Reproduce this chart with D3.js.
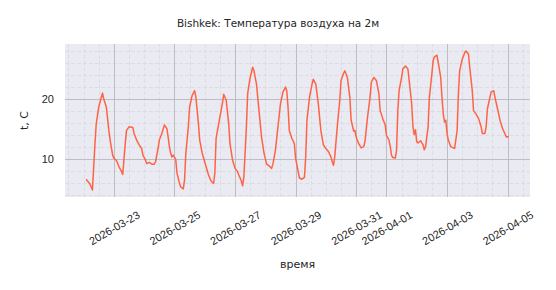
<!DOCTYPE html>
<html>
<head>
<meta charset="utf-8">
<script src="https://cdn.jsdelivr.net/npm/d3@7"></script>
<style>
  body { margin: 0; background: #fff; }
  svg { display: block; font-family: "DejaVu Sans", sans-serif; }
  .grid line { shape-rendering: crispEdges; }
</style>
</head>
<body>
<script>
/*
 * Hourly-ish air temperature at 2 m for Bishkek,
 * read off the reference picture.
 */

const times = [
  "2026-03-22 02:00", "2026-03-22 05:00", "2026-03-22 07:00", "2026-03-22 09:00", "2026-03-22 10:00", "2026-03-22 12:00", "2026-03-22 14:00", "2026-03-22 15:00", "2026-03-22 16:00", "2026-03-22 18:00", "2026-03-22 20:00", "2026-03-22 21:00", "2026-03-22 23:00",
  "2026-03-23 00:00", "2026-03-23 02:00", "2026-03-23 04:00", "2026-03-23 06:00", "2026-03-23 07:00", "2026-03-23 09:00", "2026-03-23 10:00", "2026-03-23 12:00", "2026-03-23 15:00", "2026-03-23 16:00", "2026-03-23 18:00", "2026-03-23 20:00", "2026-03-23 22:00", "2026-03-23 23:00",
  "2026-03-24 01:00", "2026-03-24 02:00", "2026-03-24 04:00", "2026-03-24 06:00", "2026-03-24 08:00", "2026-03-24 09:00", "2026-03-24 11:00", "2026-03-24 12:00", "2026-03-24 14:00", "2026-03-24 16:00", "2026-03-24 18:00", "2026-03-24 19:00", "2026-03-24 20:00", "2026-03-24 21:00", "2026-03-24 22:00", "2026-03-24 23:00",
  "2026-03-25 01:00", "2026-03-25 02:00", "2026-03-25 04:00", "2026-03-25 05:00", "2026-03-25 07:00", "2026-03-25 08:00", "2026-03-25 09:00", "2026-03-25 11:00", "2026-03-25 12:00", "2026-03-25 14:00", "2026-03-25 16:00", "2026-03-25 17:00", "2026-03-25 19:00", "2026-03-25 20:00", "2026-03-25 22:00",
  "2026-03-26 01:00", "2026-03-26 03:00", "2026-03-26 05:00", "2026-03-26 07:00", "2026-03-26 08:00", "2026-03-26 09:00", "2026-03-26 12:00", "2026-03-26 14:00", "2026-03-26 15:00", "2026-03-26 17:00", "2026-03-26 19:00", "2026-03-26 20:00", "2026-03-26 22:00",
  "2026-03-27 00:00", "2026-03-27 02:00", "2026-03-27 03:00", "2026-03-27 05:00", "2026-03-27 06:00", "2026-03-27 07:00", "2026-03-27 09:00", "2026-03-27 10:00", "2026-03-27 12:00", "2026-03-27 14:00", "2026-03-27 15:00", "2026-03-27 17:00", "2026-03-27 19:00", "2026-03-27 21:00", "2026-03-27 23:00",
  "2026-03-28 01:00", "2026-03-28 03:00", "2026-03-28 05:00", "2026-03-28 06:00", "2026-03-28 08:00", "2026-03-28 10:00", "2026-03-28 12:00", "2026-03-28 14:00", "2026-03-28 16:00", "2026-03-28 17:00", "2026-03-28 18:00", "2026-03-28 19:00", "2026-03-28 21:00", "2026-03-28 23:00",
  "2026-03-29 00:00", "2026-03-29 02:00", "2026-03-29 03:00", "2026-03-29 05:00", "2026-03-29 07:00", "2026-03-29 08:00", "2026-03-29 09:00", "2026-03-29 11:00", "2026-03-29 13:00", "2026-03-29 14:00", "2026-03-29 16:00", "2026-03-29 18:00", "2026-03-29 20:00", "2026-03-29 22:00",
  "2026-03-30 00:00", "2026-03-30 02:00", "2026-03-30 04:00", "2026-03-30 05:00", "2026-03-30 06:00", "2026-03-30 07:00", "2026-03-30 09:00", "2026-03-30 11:00", "2026-03-30 12:00", "2026-03-30 14:00", "2026-03-30 15:00", "2026-03-30 17:00", "2026-03-30 19:00", "2026-03-30 20:00", "2026-03-30 22:00", "2026-03-30 23:00",
  "2026-03-31 00:00", "2026-03-31 02:00", "2026-03-31 04:00", "2026-03-31 06:00", "2026-03-31 07:00", "2026-03-31 09:00", "2026-03-31 11:00", "2026-03-31 12:00", "2026-03-31 14:00", "2026-03-31 16:00", "2026-03-31 18:00", "2026-03-31 19:00", "2026-03-31 21:00", "2026-03-31 23:00",
  "2026-04-01 00:00", "2026-04-01 02:00", "2026-04-01 03:00", "2026-04-01 04:00", "2026-04-01 05:00", "2026-04-01 07:00", "2026-04-01 08:00", "2026-04-01 09:00", "2026-04-01 10:00", "2026-04-01 12:00", "2026-04-01 13:00", "2026-04-01 15:00", "2026-04-01 17:00", "2026-04-01 18:00", "2026-04-01 20:00", "2026-04-01 21:00", "2026-04-01 22:00", "2026-04-01 23:00",
  "2026-04-02 00:00", "2026-04-02 01:00", "2026-04-02 03:00", "2026-04-02 05:00", "2026-04-02 06:00", "2026-04-02 07:00", "2026-04-02 09:00", "2026-04-02 10:00", "2026-04-02 12:00", "2026-04-02 13:00", "2026-04-02 14:00", "2026-04-02 16:00", "2026-04-02 17:00", "2026-04-02 19:00", "2026-04-02 20:00", "2026-04-02 21:00", "2026-04-02 22:00", "2026-04-02 23:00",
  "2026-04-03 00:00", "2026-04-03 01:00", "2026-04-03 03:00", "2026-04-03 05:00", "2026-04-03 06:00", "2026-04-03 08:00", "2026-04-03 09:00", "2026-04-03 10:00", "2026-04-03 12:00", "2026-04-03 14:00", "2026-04-03 15:00", "2026-04-03 17:00", "2026-04-03 18:00", "2026-04-03 20:00", "2026-04-03 21:00", "2026-04-03 23:00",
  "2026-04-04 01:00", "2026-04-04 03:00", "2026-04-04 04:00", "2026-04-04 06:00", "2026-04-04 07:00", "2026-04-04 08:00", "2026-04-04 10:00", "2026-04-04 11:00", "2026-04-04 13:00", "2026-04-04 14:00", "2026-04-04 16:00", "2026-04-04 18:00", "2026-04-04 20:00", "2026-04-04 22:00", "2026-04-04 23:00",
  "2026-04-05 01:00"
];

const temps = [
  6.7, 5.9, 4.9, 12.6, 15.9, 18.7, 20.3, 21.0, 20.0, 18.7, 14.8, 13.2, 10.7,
  10.2, 9.8, 8.8, 8.0, 7.5, 12.6, 14.8, 15.4, 15.3, 14.3, 13.2, 12.4, 11.8, 10.7,
  9.9, 9.3, 9.5, 9.2, 9.2, 9.6, 11.8, 13.2, 14.3, 15.7, 15.1, 13.7, 12.1, 11.0, 10.4, 10.7,
  10.0, 7.7, 6.0, 5.4, 5.1, 6.6, 11.0, 15.4, 18.7, 20.6, 21.4, 20.3, 15.9, 13.2, 11.0,
  8.8, 7.4, 6.4, 6.0, 7.7, 13.5, 17.0, 19.3, 20.8, 19.8, 15.9, 12.6, 9.9,
  8.5, 8.0, 7.4, 6.4, 5.6, 7.1, 15.4, 20.9, 23.6, 25.3, 24.7, 22.5, 18.1, 13.7, 11.0,
  9.2, 8.9, 8.5, 9.2, 11.5, 15.4, 19.2, 21.2, 22.0, 21.4, 18.7, 14.8, 13.5, 12.6,
  10.2, 8.0, 6.9, 6.7, 7.0, 10.4, 16.5, 20.3, 22.5, 23.3, 22.5, 19.2, 14.8, 12.4,
  11.8, 11.3, 10.4, 9.6, 9.0, 10.4, 15.4, 19.8, 23.1, 24.3, 24.7, 23.6, 20.3, 16.5, 14.7, 14.8,
  13.7, 12.6, 11.9, 12.1, 13.0, 17.0, 20.3, 22.8, 23.6, 23.1, 20.9, 18.1, 16.8, 15.7,
  14.0, 13.2, 12.1, 10.7, 10.3, 10.2, 11.5, 18.1, 21.4, 23.6, 25.0, 25.5, 25.0, 23.1, 19.2, 15.4, 14.1, 14.9,
  12.9, 12.7, 13.1, 12.4, 11.6, 12.1, 15.4, 20.3, 24.2, 26.4, 27.0, 27.3, 26.1, 23.6, 20.3, 17.6, 16.2, 16.5,
  14.3, 13.2, 12.1, 11.9, 11.8, 14.8, 20.9, 24.7, 26.6, 27.7, 28.0, 27.5, 25.3, 21.4, 18.1, 17.5,
  16.8, 15.4, 14.3, 14.3, 15.4, 18.4, 20.3, 21.2, 21.4, 20.3, 18.4, 16.5, 15.1, 14.2, 13.7,
  13.8
];

// tick positions
const xTickDates = ["2026-03-23", "2026-03-25", "2026-03-27", "2026-03-29", "2026-03-31", "2026-04-01", "2026-04-03", "2026-04-05"];
const yMajorTicks = [10, 20];
const yMinorTicks = [4, 6, 8, 12, 14, 16, 18, 22, 24, 26, 28];

const TITLE = "Bishkek: Температура воздуха на 2м";
const X_LABEL = "время";
const Y_LABEL = "t, C";

/*
 * Canvas and plot area
 */
const WIDTH = 556;
const HEIGHT = 290;
const PLOT_LEFT = 65;
const PLOT_RIGHT = 530;
const PLOT_TOP = 44;
const PLOT_BOT = 197;

const TEXT_COLOR = "#262626";

const parseTime = d3.utcParse("%Y-%m-%d %H:%M");
const parseDay = d3.utcParse("%Y-%m-%d");

const data = times.map((t, i) => ({ time: parseTime(t), temp: temps[i] }));

// matplotlib-like 5% margins around the data
const pad = ([lo, hi]) => [lo - (hi - lo) * 0.05, hi + (hi - lo) * 0.05];

const tExtent = d3.extent(data, d => +d.time);
const xScale = d3.scaleUtc()
    .domain(pad(tExtent).map(v => new Date(v)))
    .range([PLOT_LEFT, PLOT_RIGHT]);

const yScale = d3.scaleLinear()
    .domain(pad(d3.extent(data, d => d.temp)))
    .range([PLOT_BOT, PLOT_TOP]);

const svg = d3.select("body")
  .append("svg")
    .attr("width", WIDTH)
    .attr("height", HEIGHT);

// plot background
svg.append("rect")
    .attr("x", PLOT_LEFT)
    .attr("y", PLOT_TOP)
    .attr("width", PLOT_RIGHT - PLOT_LEFT)
    .attr("height", PLOT_BOT - PLOT_TOP)
    .attr("fill", "#eaeaf2");

const plotH = PLOT_BOT - PLOT_TOP;
const plotW = PLOT_RIGHT - PLOT_LEFT;

// minor grid (dashed)
svg.append("g")
    .attr("class", "grid")
    .attr("transform", `translate(0, ${PLOT_BOT})`)
    .call(d3.axisBottom(xScale)
      .ticks(d3.utcHour.every(12))
      .tickSize(-plotH)
      .tickFormat(""))
    .call(g => g.select(".domain").remove())
    .call(g => g.selectAll("line")
      .attr("stroke", "#dcdce3")
      .attr("stroke-dasharray", "4,2"));

svg.append("g")
    .attr("class", "grid")
    .attr("transform", `translate(${PLOT_LEFT}, 0)`)
    .call(d3.axisLeft(yScale)
      .tickValues(yMinorTicks)
      .tickSize(-plotW)
      .tickFormat(""))
    .call(g => g.select(".domain").remove())
    .call(g => g.selectAll("line")
      .attr("stroke", "#dcdce3")
      .attr("stroke-dasharray", "4,2"));

// major grid + tick labels, x
const xAxis = svg.append("g")
    .attr("class", "grid")
    .attr("transform", `translate(0, ${PLOT_BOT})`)
    .call(d3.axisBottom(xScale)
      .tickValues(xTickDates.map(parseDay))
      .tickSize(-plotH)
      .tickPadding(0)
      .tickFormat(d3.utcFormat("%Y-%m-%d")));

xAxis.select(".domain").remove();
xAxis.selectAll("line").attr("stroke", "#bdbdc2");
xAxis.selectAll("text")
    .attr("fill", TEXT_COLOR)
    .style("font-size", "11px")
    .attr("text-anchor", "middle")
    .attr("y", 0)
    .attr("dy", "0.35em")
    .attr("transform", "translate(0, 31) rotate(-30)");

// major grid + tick labels, y
const yAxis = svg.append("g")
    .attr("class", "grid")
    .attr("transform", `translate(${PLOT_LEFT}, 0)`)
    .call(d3.axisLeft(yScale)
      .tickValues(yMajorTicks)
      .tickSize(-plotW)
      .tickPadding(11)
      .tickFormat(d3.format("d")));

yAxis.select(".domain").remove();
yAxis.selectAll("line").attr("stroke", "#bdbdc2");
yAxis.selectAll("text")
    .attr("fill", TEXT_COLOR)
    .style("font-size", "11px");

// the temperature line
const line = d3.line()
    .x(d => xScale(d.time))
    .y(d => yScale(d.temp));

svg.append("path")
    .datum(data)
    .attr("fill", "none")
    .attr("stroke", "#ff6347")
    .attr("stroke-width", 1.5)
    .attr("stroke-linejoin", "round")
    .attr("d", line);

// title and axis labels
svg.append("text")
    .attr("x", WIDTH / 2)
    .attr("y", 27)
    .attr("text-anchor", "middle")
    .attr("fill", TEXT_COLOR)
    .style("font-size", "10.5px")
    .text(TITLE);

svg.append("text")
    .attr("x", (PLOT_LEFT + PLOT_RIGHT) / 2)
    .attr("y", 268)
    .attr("text-anchor", "middle")
    .attr("fill", TEXT_COLOR)
    .style("font-size", "11px")
    .text(X_LABEL);

svg.append("text")
    .attr("transform", `translate(28, ${(PLOT_TOP + PLOT_BOT) / 2}) rotate(-90)`)
    .attr("text-anchor", "middle")
    .attr("fill", TEXT_COLOR)
    .style("font-size", "11px")
    .text(Y_LABEL);
</script>
</body>
</html>
